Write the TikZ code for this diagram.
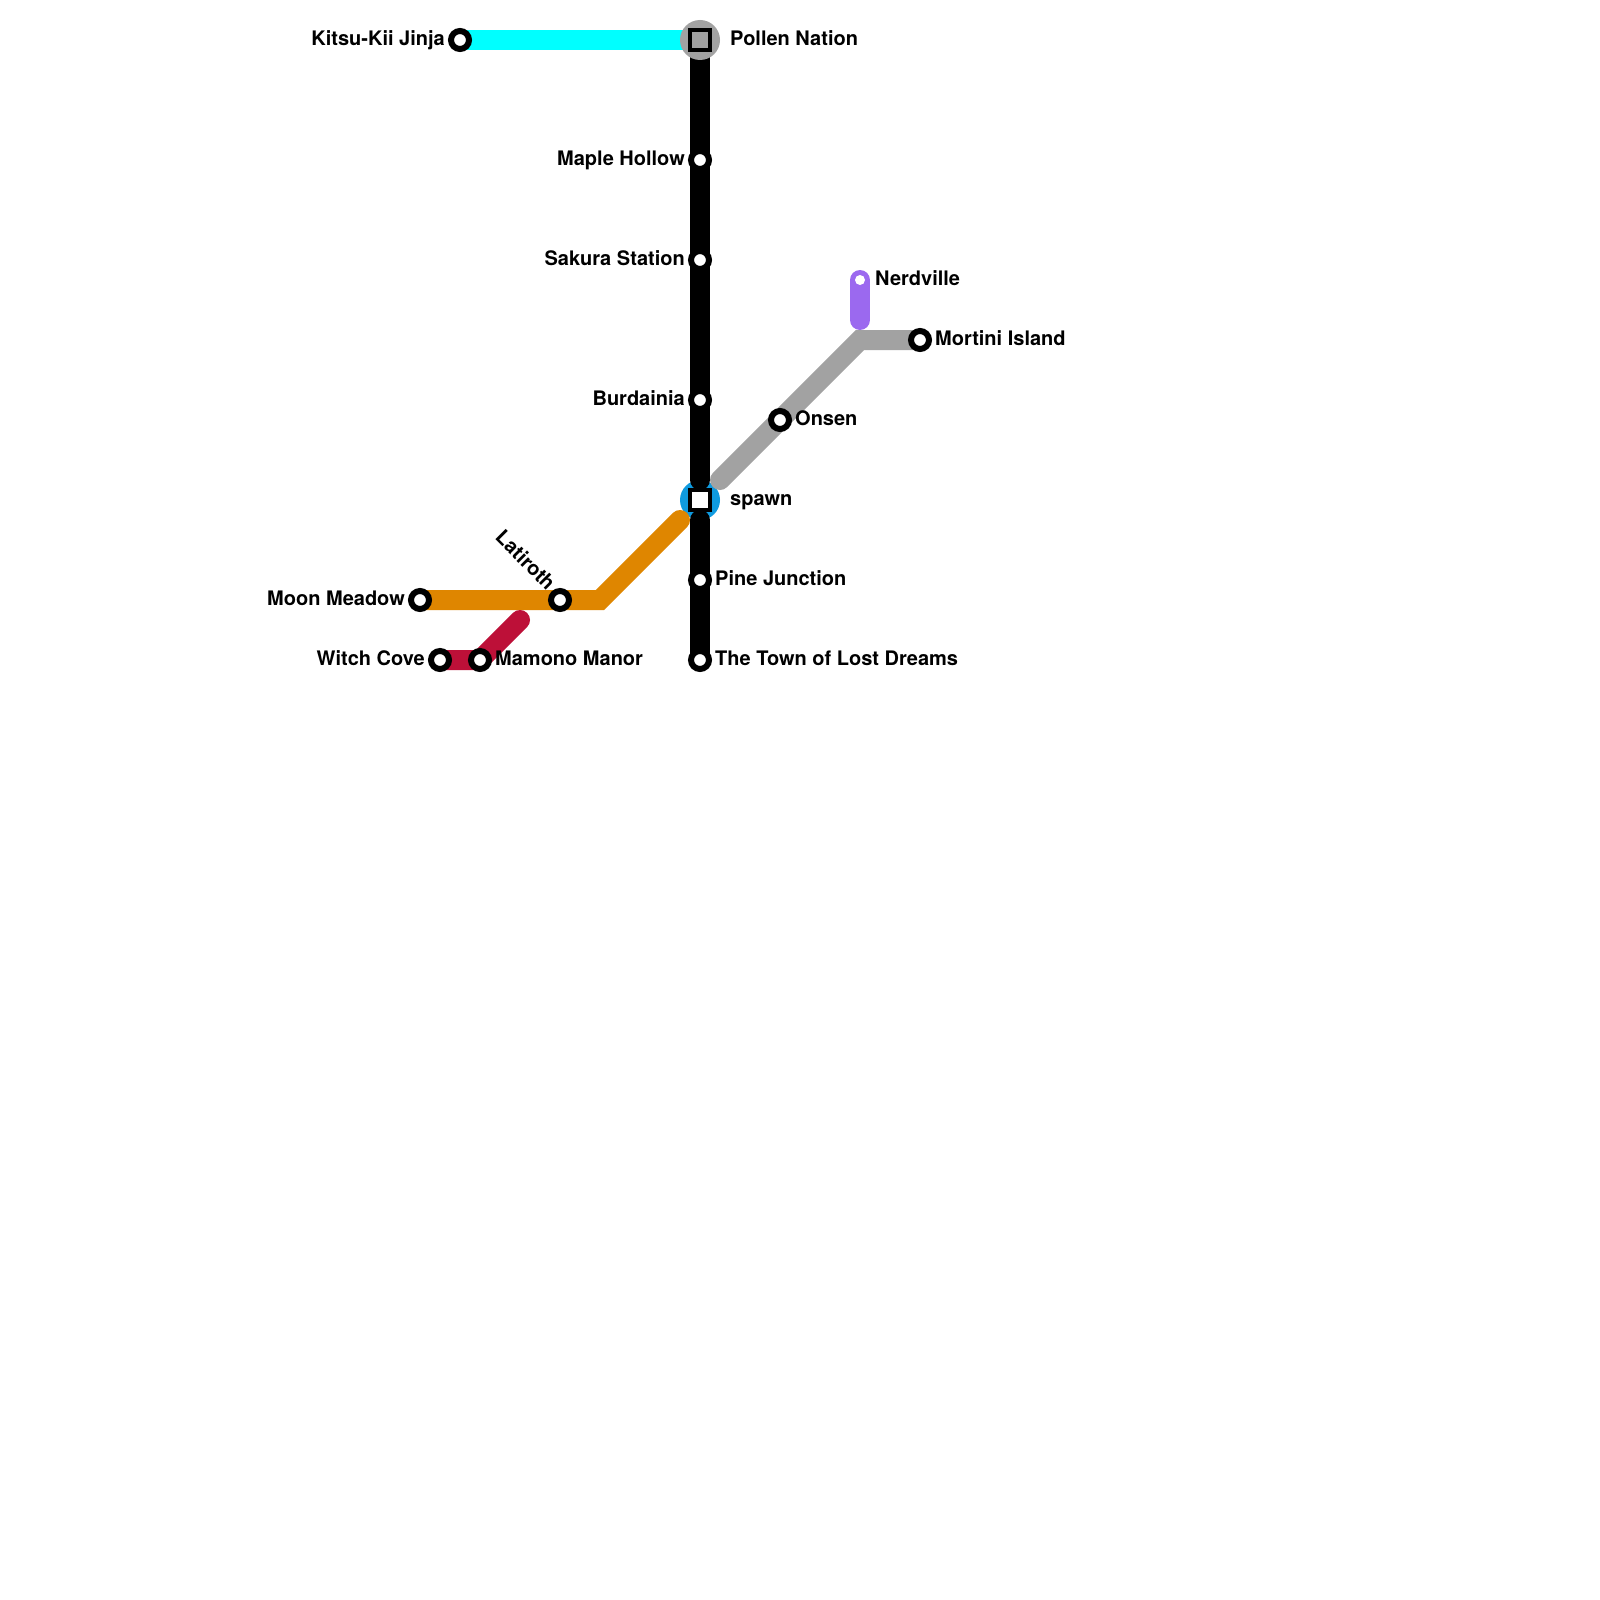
\documentclass[tikz,border=0pt]{standalone}
\usepackage{fontspec}
\setmainfont{TeX Gyre Heros}
\definecolor{lcyan}{HTML}{00FFFF}
\definecolor{lgrey}{HTML}{A2A2A2}
\definecolor{lblue}{HTML}{0F9ADF}
\definecolor{lorange}{HTML}{DF8600}
\definecolor{lred}{HTML}{BD1038}
\definecolor{lpurple}{HTML}{9B69EF}
\tikzset{
  routeline/.style={line width=20pt,line cap=round,line join=miter},
  stop/.style={circle,draw=black,line width=6pt,fill=white,inner sep=0pt,outer sep=0pt,minimum size=18pt},
  stoppurple/.style={circle,fill=white,inner sep=0pt,outer sep=0pt,minimum size=10pt},
  hub/.style={circle,inner sep=0pt,outer sep=0pt,minimum size=40pt},
  hubsq/.style={rectangle,draw=black,line width=4pt,inner sep=0pt,outer sep=0pt,minimum size=20pt},
  lab/.style={font=\fontsize{20}{24}\selectfont\bfseries,text=black,inner sep=0pt},
}
\begin{document}
\begin{tikzpicture}[x=1pt,y=-1pt]
\useasboundingbox (0,0) rectangle (1600,1600);
\fill[white] (0,0) rectangle (1600,1600);
% route coordinates
\coordinate (pollen) at (700,40);
\coordinate (kitsu) at (460,40);
\coordinate (maple) at (700,160);
\coordinate (sakura) at (700,260);
\coordinate (burd) at (700,400);
\coordinate (spawn) at (700,500);
\coordinate (blacktop) at (700,480);
\coordinate (blackbot) at (700,520);
\coordinate (pine) at (700,580);
\coordinate (town) at (700,660);
\coordinate (greystart) at (720,480);
\coordinate (onsen) at (780,420);
\coordinate (greybend) at (860,340);
\coordinate (mortini) at (920,340);
\coordinate (nerd) at (860,280);
\coordinate (nerdend) at (860,320);
\coordinate (orangeend) at (680,520);
\coordinate (orangebend) at (600,600);
\coordinate (lat) at (560,600);
\coordinate (moon) at (420,600);
\coordinate (witch) at (440,660);
\coordinate (mamono) at (480,660);
\coordinate (redend) at (520,620);
% lines
\draw[routeline,lcyan] (kitsu) -- (pollen);
\node[hub,fill=lblue] (spawnhub) at (spawn) {};
\draw[routeline,black] (pollen) -- (blacktop);
\draw[routeline,black] (blackbot) -- (town);
\draw[routeline,lgrey] (greystart) -- (greybend) -- (mortini);
\draw[routeline,lpurple] (nerd) -- (nerdend);
\draw[routeline,lorange] (orangeend) -- (orangebend) -- (moon);
\draw[routeline,lred] (redend) -- (mamono) -- (witch);
% hubs
\node[hub,fill=lgrey] (pollenhub) at (pollen) {};
\node[hubsq,fill=lgrey] (pollensq) at (pollen) {};
\node[hubsq,fill=white] (spawnsq) at (spawn) {};
% stops
\node[stop] (skitsu) at (kitsu) {};
\node[stop] (smaple) at (maple) {};
\node[stop] (ssakura) at (sakura) {};
\node[stop] (sburd) at (burd) {};
\node[stop] (spine) at (pine) {};
\node[stop] (stown) at (town) {};
\node[stop] (sonsen) at (onsen) {};
\node[stop] (smort) at (mortini) {};
\node[stoppurple] (snerd) at (nerd) {};
\node[stop] (slat) at (lat) {};
\node[stop] (smoon) at (moon) {};
\node[stop] (switch) at (witch) {};
\node[stop] (smam) at (mamono) {};
% labels
\node[lab,anchor=base east] (lkitsu) at (445,46) {Kitsu-Kii Jinja};
\node[lab,anchor=base west] (lpollen) at (730,46) {Pollen Nation};
\node[lab,anchor=base east] (lmaple) at (685,165) {Maple Hollow};
\node[lab,anchor=base east] (lsakura) at (685,265) {Sakura Station};
\node[lab,anchor=base east] (lburd) at (685,405) {Burdainia};
\node[lab,anchor=base west] (lspawn) at (730,505) {spawn};
\node[lab,anchor=base west] (lpine) at (715,585) {Pine Junction};
\node[lab,anchor=base west] (ltown) at (715,665) {The Town of Lost Dreams};
\node[lab,anchor=base west] (lnerd) at (875,285) {Nerdville};
\node[lab,anchor=base west] (lmort) at (935,345) {Mortini Island};
\node[lab,anchor=base west] (lonsen) at (795,425) {Onsen};
\node[lab,anchor=base east] (lmoon) at (405,605) {Moon Meadow};
\node[lab,anchor=base east] (lwitch) at (425,665) {Witch Cove};
\node[lab,anchor=base west] (lmam) at (495,665) {Mamono Manor};
\node[lab,anchor=base east,rotate=-45] (llat) at (547,591.5) {Latiroth};
\end{tikzpicture}
\end{document}
